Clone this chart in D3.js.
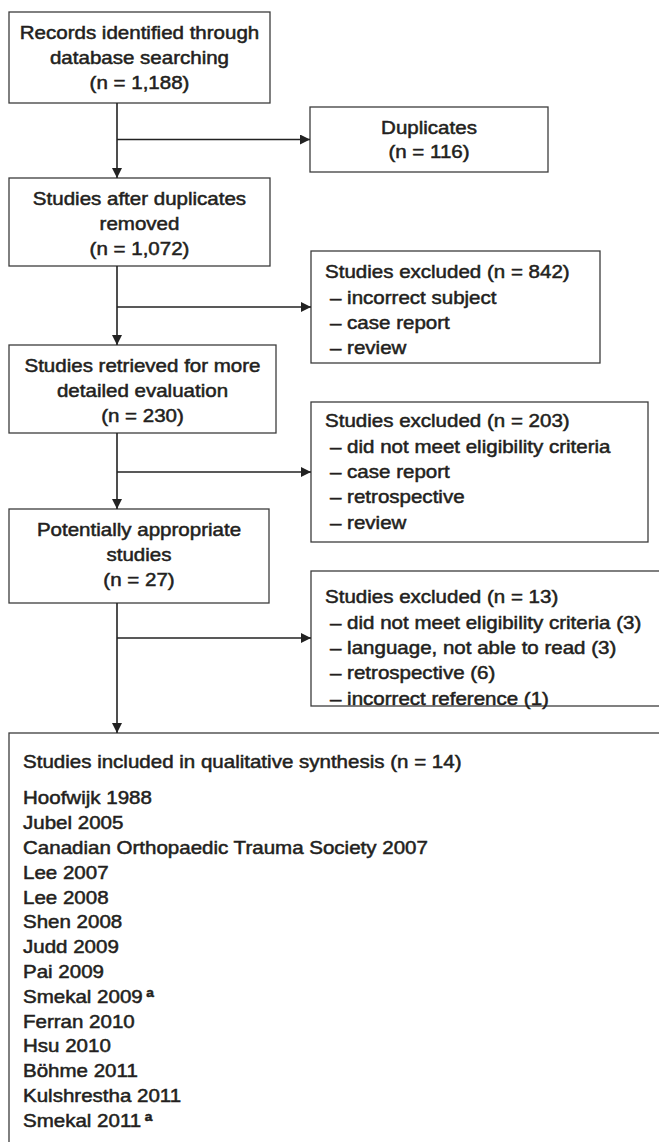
<!DOCTYPE html>
<html>
<head>
<meta charset="utf-8">
<script src="https://cdn.jsdelivr.net/npm/d3@7"></script>
<style>
  body { margin: 0; background: #fff; }
  svg text { font-family: "Liberation Sans", Arial, sans-serif; fill: #231f20; stroke: #231f20; stroke-width: 0.5px; }
</style>
</head>
<body>
<div class="chart"></div>
<script>
var svgWidth = 659;
var svgHeight = 1142;

// main flow: labels and counts
var mainLabels = [
  ["Records identified through", "database searching"],
  ["Studies after duplicates", "removed"],
  ["Studies retrieved for more", "detailed evaluation"],
  ["Potentially appropriate", "studies"]
];
var mainCounts = [1188, 1072, 230, 27];

// side (excluded) boxes
var sideTitles = ["Duplicates", "Studies excluded", "Studies excluded", "Studies excluded"];
var sideCounts = [116, 842, 203, 13];
var sideReasons = [
  [],
  ["incorrect subject", "case report", "review"],
  ["did not meet eligibility criteria", "case report", "retrospective", "review"],
  ["did not meet eligibility criteria (3)", "language, not able to read (3)", "retrospective (6)", "incorrect reference (1)"]
];

// final box
var includedTitle = "Studies included in qualitative synthesis";
var includedCount = 14;
var includedStudies = [
  "Hoofwijk 1988", "Jubel 2005", "Canadian Orthopaedic Trauma Society 2007", "Lee 2007",
  "Lee 2008", "Shen 2008", "Judd 2009", "Pai 2009", "Smekal 2009", "Ferran 2010",
  "Hsu 2010", "Böhme 2011", "Kulshrestha 2011", "Smekal 2011"
];
var footnoted = ["Smekal 2009", "Smekal 2011"];

var fmt = d3.format(",");
var fontSize = 18;
var sx = 1.14;   // horizontal stretch of the type in the source figure
var lineH = 24.8;

var svg = d3.select(".chart")
  .append("svg")
  .attr("width", svgWidth)
  .attr("height", svgHeight);

// layout of boxes (pixels)
var mainBox = [
  {x: 9, y: 12, w: 261, h: 91},
  {x: 9, y: 178, w: 261, h: 88},
  {x: 9, y: 345, w: 267, h: 88},
  {x: 9, y: 509, w: 260, h: 94}
];
var sideBox = [
  {x: 310, y: 107, w: 238, h: 65, first: 21},
  {x: 311, y: 251, w: 289, h: 112, first: 21},
  {x: 311, y: 402, w: 337, h: 140, first: 19},
  {x: 311, y: 571, w: 380, h: 135, first: 26}
];
var finalBox = {x: 9, y: 733, w: 720, h: 440};
var trunkX = 117;

var boxStroke = "#3c3c3c";

function drawBox(b) {
  svg.append("rect")
    .attr("x", b.x).attr("y", b.y)
    .attr("width", b.w).attr("height", b.h)
    .attr("fill", "none")
    .attr("stroke", boxStroke)
    .attr("stroke-width", 1.3);
}

function addText(x, y, str, anchor) {
  return svg.append("text")
    .attr("transform", `translate(${x},${y}) scale(${sx},1)`)
    .attr("dy", "0.35em")
    .attr("font-size", fontSize)
    .attr("text-anchor", anchor || "start")
    .text(str);
}

// arrow heads
var defs = svg.append("defs");
defs.append("marker")
  .attr("id", "head")
  .attr("viewBox", "0 0 10 10")
  .attr("refX", 10).attr("refY", 5)
  .attr("markerWidth", 10).attr("markerHeight", 10)
  .attr("markerUnits", "userSpaceOnUse")
  .attr("orient", "auto")
  .append("path")
  .attr("d", "M0,0 L10,5 L0,10 Z")
  .attr("fill", "#222");

// main boxes
mainBox.forEach(function(b, i) {
  drawBox(b);
  var lines = mainLabels[i].concat([`(n = ${fmt(mainCounts[i])})`]);
  var cx = b.x + b.w / 2;
  var y0 = b.y + 21;
  lines.forEach(function(l, j) {
    addText(cx, y0 + j * lineH, l, "middle");
  });
});

// side boxes
sideBox.forEach(function(b, i) {
  drawBox(b);
  if (sideReasons[i].length === 0) {
    var cx = b.x + b.w / 2;
    addText(cx, b.y + b.h / 2 - 12, sideTitles[i], "middle");
    addText(cx, b.y + b.h / 2 + 12, `(n = ${fmt(sideCounts[i])})`, "middle");
  } else {
    addText(b.x + 14, b.y + b.first, `${sideTitles[i]} (n = ${fmt(sideCounts[i])})`);
    sideReasons[i].forEach(function(r, j) {
      addText(b.x + 19, b.y + b.first + (j + 1) * 25.3, "\u2013 " + r);
    });
  }
});

// final box
drawBox(finalBox);
addText(finalBox.x + 14, finalBox.y + 29, `${includedTitle} (n = ${includedCount})`);
includedStudies.forEach(function(s, j) {
  var t = addText(finalBox.x + 14, finalBox.y + 65 + j * lineH, s);
  if (footnoted.indexOf(s) >= 0) {
    t.append("tspan")
      .attr("font-size", 12)
      .attr("font-weight", "bold")
      .attr("dx", 3)
      .attr("dy", "-0.5em")
      .text("a");
  }
});

// connectors
var lineColor = "#222";
var nextTops = mainBox.slice(1).map(function(b) { return b.y; }).concat([finalBox.y]);
mainBox.forEach(function(b, i) {
  svg.append("line")
    .attr("x1", trunkX).attr("y1", b.y + b.h)
    .attr("x2", trunkX).attr("y2", nextTops[i])
    .attr("stroke", lineColor).attr("stroke-width", 1.6)
    .attr("marker-end", "url(#head)");
  var sb = sideBox[i];
  var ay = sb.y + sb.h / 2;
  if (i === 3) ay = 638;
  svg.append("line")
    .attr("x1", trunkX).attr("y1", ay)
    .attr("x2", sb.x).attr("y2", ay)
    .attr("stroke", lineColor).attr("stroke-width", 1.6)
    .attr("marker-end", "url(#head)");
});
</script>
</body>
</html>
